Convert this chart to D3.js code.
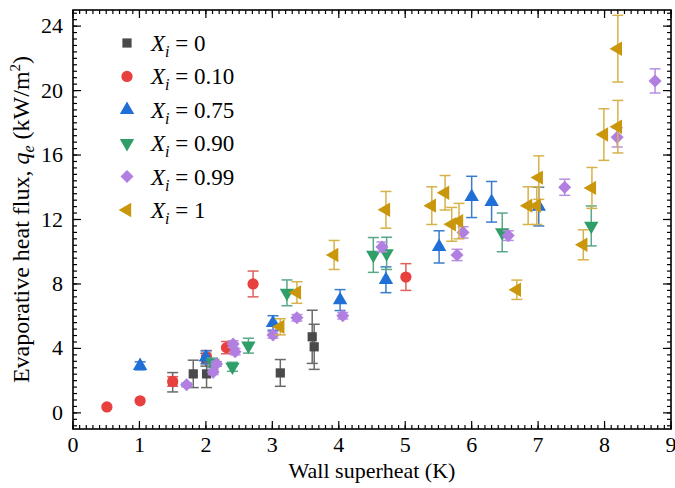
<!DOCTYPE html>
<meta charset="utf-8">
<style>
  body { margin: 0; background: #fff; }
  svg { display: block; }
  text { font-family: "Liberation Serif", "Times New Roman", serif; fill: #000; }
</style>
<svg width="675" height="488"></svg>
<script src="https://cdn.jsdelivr.net/npm/d3@7"></script>
<script>
// wall superheat (K), evaporative heat flux (kW/m2), error (+/-)
var xi0   = [[1.5, 1.9, 0.6], [1.81, 2.42, 0.85], [2.01, 2.42, 0.85], [2.0, 3.3, 0.4], [3.12, 2.48, 0.83], [3.6, 4.72, 1.65], [3.63, 4.1, 1.4]];
var xi010 = [[0.51, 0.37, 0], [1.01, 0.75, 0], [1.5, 1.95, 0.3], [2.01, 3.47, 0.4], [2.31, 4.05, 0.38], [2.71, 8.0, 0.8], [5.01, 8.43, 0.83]];
var xi075 = [[1.01, 2.92, 0.25], [2.0, 3.45, 0.4], [3.01, 5.58, 0.45], [4.02, 7.0, 0.65], [4.71, 8.26, 0.8], [5.51, 10.3, 1.0], [6.0, 13.4, 1.28], [6.3, 13.1, 1.26], [7.01, 12.8, 1.2]];
var xi090 = [[2.1, 3.1, 0.3], [2.4, 2.86, 0.28], [2.64, 4.17, 0.46], [3.22, 7.45, 0.8], [4.52, 9.8, 1.08], [4.72, 9.9, 1.0], [6.46, 11.2, 1.2], [7.8, 11.6, 1.24]];
var xi099 = [[1.71, 1.74, 0.12], [2.11, 2.53, 0.15], [2.16, 3.04, 0.15], [2.41, 4.27, 0.2], [2.44, 3.8, 0.2], [3.01, 4.84, 0.2], [3.37, 5.9, 0.2], [4.06, 6.03, 0.2],
             [4.65, 10.3, 0.3], [5.78, 9.8, 0.35], [5.87, 11.2, 0.35], [6.55, 11.0, 0.3], [7.4, 14.0, 0.5], [8.19, 17.1, 0.6], [8.76, 20.6, 0.75]];
var xi1   = [[3.12, 5.34, 0.5], [3.37, 7.47, 0.67], [3.93, 9.8, 0.9], [4.71, 12.6, 1.14], [5.4, 12.86, 1.17], [5.6, 13.66, 1.07], [5.7, 11.7, 1.05], [5.81, 11.9, 1.1],
             [6.68, 7.64, 0.6], [6.85, 12.86, 1.17], [6.98, 12.86, 1.17], [7.01, 14.6, 1.35], [7.68, 10.43, 0.93], [7.81, 13.96, 1.27], [7.99, 17.27, 1.6], [8.2, 17.76, 1.63], [8.2, 22.6, 2.07]];

var legendLabels = ["0", "0.10", "0.75", "0.90", "0.99", "1"];
var xTicks = [0, 1, 2, 3, 4, 5, 6, 7, 8, 9];
var yTicks = [0, 4, 8, 12, 16, 20, 24];

var series = [
  { data: xi0,   color: "#4a4a4a", bar: "#6a6a6a", shape: d3.symbolSquare,   size: 85,  rot: 0 },
  { data: xi010, color: "#e8403f", bar: "#e06060", shape: d3.symbolCircle,   size: 100, rot: 0 },
  { data: xi075, color: "#1f6fd6", bar: "#3a7ccc", shape: d3.symbolTriangle, size: 90,  rot: 0 },
  { data: xi090, color: "#2f9e69", bar: "#5aa888", shape: d3.symbolTriangle, size: 90,  rot: 180 },
  { data: xi099, color: "#b07fe0", bar: "#b58fe0", shape: d3.symbolSquare,   size: 85,  rot: 45 },
  { data: xi1,   color: "#c9960c", bar: "#d6b24a", shape: d3.symbolTriangle, size: 90,  rot: -90 }
];

var svg = d3.select("svg"),
    margin = { left: 73, right: 4, top: 10, bottom: 59 },
    W = +svg.attr("width"), H = +svg.attr("height");

var x = d3.scaleLinear().domain([0, 9]).range([margin.left, W - margin.right]);
var y = d3.scaleLinear().domain([-1, 25]).range([H - margin.bottom, margin.top]);

var x0 = x.range()[0], x1 = x.range()[1], yb = y.range()[0], yt = y.range()[1];

// ticks, all pointing inwards, mirrored on top and right
var ax = svg.append("g");
var xMinor = d3.range(0, 9.001, 0.1), yMinor = d3.range(-0.8, 24.81, 0.4);
function tickLines(vals, len) {
  vals.forEach(function(v) {
    var px = x(v);
    ax.append("line").attr("x1", px).attr("x2", px).attr("y1", yb).attr("y2", yb - len);
    ax.append("line").attr("x1", px).attr("x2", px).attr("y1", yt).attr("y2", yt + len);
  });
}
function tickLinesY(vals, len) {
  vals.forEach(function(v) {
    var py = y(v);
    ax.append("line").attr("x1", x0).attr("x2", x0 + len).attr("y1", py).attr("y2", py);
    ax.append("line").attr("x1", x1).attr("x2", x1 - len).attr("y1", py).attr("y2", py);
  });
}
tickLines(xMinor, 4);
tickLines(xTicks, 8);
tickLinesY(yMinor, 4);
tickLinesY(yTicks, 8);
ax.selectAll("line").attr("stroke", "#000").attr("stroke-width", 1.2);

svg.append("rect")
  .attr("x", x0).attr("y", yt).attr("width", x1 - x0).attr("height", yb - yt)
  .attr("fill", "none").attr("stroke", "#000").attr("stroke-width", 1.6);

svg.selectAll(".xt").data(xTicks).enter().append("text")
  .attr("x", function(d) { return x(d); }).attr("y", yb + 23)
  .attr("text-anchor", "middle").attr("font-size", 22).text(function(d) { return d; });

svg.selectAll(".yt").data(yTicks).enter().append("text")
  .attr("x", x0 - 10).attr("y", function(d) { return y(d) + 7; })
  .attr("text-anchor", "end").attr("font-size", 22).text(function(d) { return d; });

svg.append("text").attr("x", (x0 + x1) / 2).attr("y", yb + 49)
  .attr("text-anchor", "middle").attr("font-size", 22).text("Wall superheat (K)");

var yl = svg.append("text")
  .attr("transform", "translate(29," + ((yt + yb) / 2) + ") rotate(-90)")
  .attr("text-anchor", "middle").attr("font-size", 24);
yl.append("tspan").text("Evaporative heat flux, ");
yl.append("tspan").attr("font-style", "italic").text("q");
yl.append("tspan").attr("font-style", "italic").attr("font-size", 16).attr("dy", 5).text("e");
yl.append("tspan").attr("dy", -5).text(" (kW/m");
yl.append("tspan").attr("font-size", 15).attr("dy", -9).text("2");
yl.append("tspan").attr("dy", 9).text(")");

// error bars then markers
series.forEach(function(s) {
  var g = svg.append("g");
  var eb = g.selectAll(".eb").data(s.data.filter(function(d) { return d[2] > 0; })).enter().append("g")
    .attr("stroke", s.bar).attr("stroke-width", 1.5);
  eb.append("line")
    .attr("x1", function(d) { return x(d[0]); }).attr("x2", function(d) { return x(d[0]); })
    .attr("y1", function(d) { return y(d[1] - d[2]); }).attr("y2", function(d) { return y(d[1] + d[2]); });
  [-1, 1].forEach(function(sg) {
    eb.append("line")
      .attr("x1", function(d) { return x(d[0]) - 5.5; }).attr("x2", function(d) { return x(d[0]) + 5.5; })
      .attr("y1", function(d) { return y(d[1] + sg * d[2]); }).attr("y2", function(d) { return y(d[1] + sg * d[2]); });
  });
  g.selectAll(".pt").data(s.data).enter().append("path")
    .attr("d", d3.symbol().type(s.shape).size(s.size))
    .attr("transform", function(d) { return "translate(" + x(d[0]) + "," + y(d[1]) + ") rotate(" + s.rot + ")"; })
    .attr("fill", s.color);
});

// legend
var lg = svg.append("g");
series.forEach(function(s, i) {
  var ly = 43 + i * 33.4;
  lg.append("path")
    .attr("d", d3.symbol().type(s.shape).size(s.size))
    .attr("transform", "translate(127," + ly + ") rotate(" + s.rot + ")")
    .attr("fill", s.color);
  var t = lg.append("text").attr("x", 151).attr("y", ly + 8).attr("font-size", 23);
  t.append("tspan").attr("font-style", "italic").text("X");
  t.append("tspan").attr("font-style", "italic").attr("font-size", 16).attr("dy", 6).text("i");
  t.append("tspan").attr("dy", -6).text(" = " + legendLabels[i]);
});
</script>
